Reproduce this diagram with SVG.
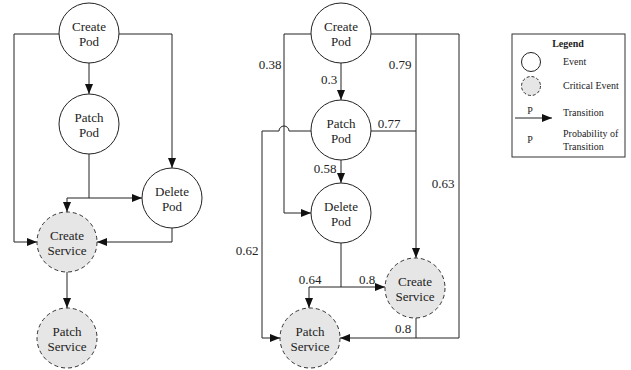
<svg xmlns="http://www.w3.org/2000/svg" width="631" height="370" viewBox="0 0 631 370" font-family="'Liberation Serif', 'Times New Roman', Times, serif">
  <defs>
    <marker id="arrow" viewBox="0 0 10 8" refX="10" refY="4" markerWidth="10" markerHeight="8" markerUnits="userSpaceOnUse" orient="auto">
      <path d="M0,0 L10,4 L0,8 Z" fill="#111"/>
    </marker>
  </defs>
  <style>
    text { font-family: 'Liberation Serif', 'Times New Roman', Times, serif; }
    .event { fill: #fff; stroke: #222; stroke-width: 1; }
    .critical { fill: #e6e6e6; stroke: #333; stroke-width: 1; stroke-dasharray: 4 3; }
    .label { font-size: 13px; fill: #222; text-anchor: middle; }
    .prob { font-size: 13px; fill: #222; text-anchor: middle; }
    .edge { fill: none; stroke: #222; stroke-width: 1; }
    .arr { marker-end: url(#arrow); }
    .legend { font-size: 10px; fill: #222; }
  </style>
  <rect width="631" height="370" fill="#fff"/>

  <!-- Left workflow -->
  <g id="left-edges">
    <path class="edge arr" d="M89 63 V94"/>
    <path class="edge arr" d="M59 34 H14 V242 H37"/>
    <path class="edge arr" d="M119 34 H172 V168"/>
    <path class="edge" d="M89 154 V198"/>
    <path class="edge arr" d="M67 198 H142"/>
    <path class="edge arr" d="M67 198 V212"/>
    <path class="edge arr" d="M172 228 V242 H97"/>
    <path class="edge arr" d="M67 272 V308"/>
  </g>
  <g id="l-create-pod">
    <circle class="event" cx="89" cy="33" r="30"/>
    <text class="label" x="89" y="31">Create</text>
    <text class="label" x="89" y="46">Pod</text>
  </g>
  <g id="l-patch-pod">
    <circle class="event" cx="89" cy="124" r="30"/>
    <text class="label" x="89" y="122">Patch</text>
    <text class="label" x="89" y="137">Pod</text>
  </g>
  <g id="l-delete-pod">
    <circle class="event" cx="172" cy="198" r="30"/>
    <text class="label" x="172" y="196">Delete</text>
    <text class="label" x="172" y="211">Pod</text>
  </g>
  <g id="l-create-service">
    <circle class="critical" cx="67" cy="242" r="30"/>
    <text class="label" x="67" y="240">Create</text>
    <text class="label" x="67" y="255">Service</text>
  </g>
  <g id="l-patch-service">
    <circle class="critical" cx="67" cy="338" r="30"/>
    <text class="label" x="67" y="336">Patch</text>
    <text class="label" x="67" y="351">Service</text>
  </g>

  <!-- Right workflow with transition probabilities -->
  <g id="right-edges">
    <path class="edge arr" d="M341 63 V100"/>
    <path class="edge arr" d="M311 34 H284 V213 H311"/>
    <path class="edge arr" d="M371 34 H459 V338 H340"/>
    <path class="edge arr" d="M416 34 V258"/>
    <path class="edge" d="M371 131 H416"/>
    <path class="edge arr" d="M311 131 H289 A5 5 0 0 0 279 131 H262 V338 H280"/>
    <path class="edge arr" d="M341 160 V183"/>
    <path class="edge" d="M341 243 V287"/>
    <path class="edge arr" d="M341 287 H385"/>
    <path class="edge arr" d="M341 287 H309 V308"/>
    <path class="edge" d="M416 318 V338"/>
    <text class="prob" x="270" y="69">0.38</text>
    <text class="prob" x="329" y="84">0.3</text>
    <text class="prob" x="400" y="69">0.79</text>
    <text class="prob" x="389" y="128">0.77</text>
    <text class="prob" x="325" y="173">0.58</text>
    <text class="prob" x="443" y="188">0.63</text>
    <text class="prob" x="247" y="255">0.62</text>
    <text class="prob" x="310" y="284">0.64</text>
    <text class="prob" x="367" y="284">0.8</text>
    <text class="prob" x="403" y="333">0.8</text>
  </g>
  <g id="r-create-pod">
    <circle class="event" cx="341" cy="33" r="30"/>
    <text class="label" x="341" y="31">Create</text>
    <text class="label" x="341" y="46">Pod</text>
  </g>
  <g id="r-patch-pod">
    <circle class="event" cx="341" cy="130" r="30"/>
    <text class="label" x="341" y="128">Patch</text>
    <text class="label" x="341" y="143">Pod</text>
  </g>
  <g id="r-delete-pod">
    <circle class="event" cx="341" cy="213" r="30"/>
    <text class="label" x="341" y="211">Delete</text>
    <text class="label" x="341" y="226">Pod</text>
  </g>
  <g id="r-create-service">
    <circle class="critical" cx="415" cy="288" r="30"/>
    <text class="label" x="415" y="286">Create</text>
    <text class="label" x="415" y="301">Service</text>
  </g>
  <g id="r-patch-service">
    <circle class="critical" cx="310" cy="338" r="30"/>
    <text class="label" x="310" y="336">Patch</text>
    <text class="label" x="310" y="351">Service</text>
  </g>

  <!-- Legend -->
  <g id="legend">
    <rect x="512" y="34" width="113" height="123" fill="#fff" stroke="#333" stroke-width="1"/>
    <text class="legend" x="568" y="47" text-anchor="middle" font-weight="bold">Legend</text>
    <circle class="event" cx="531" cy="62" r="9.5"/>
    <text class="legend" x="563" y="65">Event</text>
    <circle class="critical" cx="531" cy="86" r="9.5" style="stroke-dasharray:3 2"/>
    <text class="legend" x="563" y="89">Critical Event</text>
    <path class="edge arr" d="M515 118 H552"/>
    <text class="legend" x="530" y="114" text-anchor="middle">P</text>
    <text class="legend" x="563" y="116">Transition</text>
    <text class="legend" x="530" y="143" text-anchor="middle">P</text>
    <text class="legend" x="563" y="137">Probability of</text>
    <text class="legend" x="563" y="150">Transition</text>
  </g>
</svg>
